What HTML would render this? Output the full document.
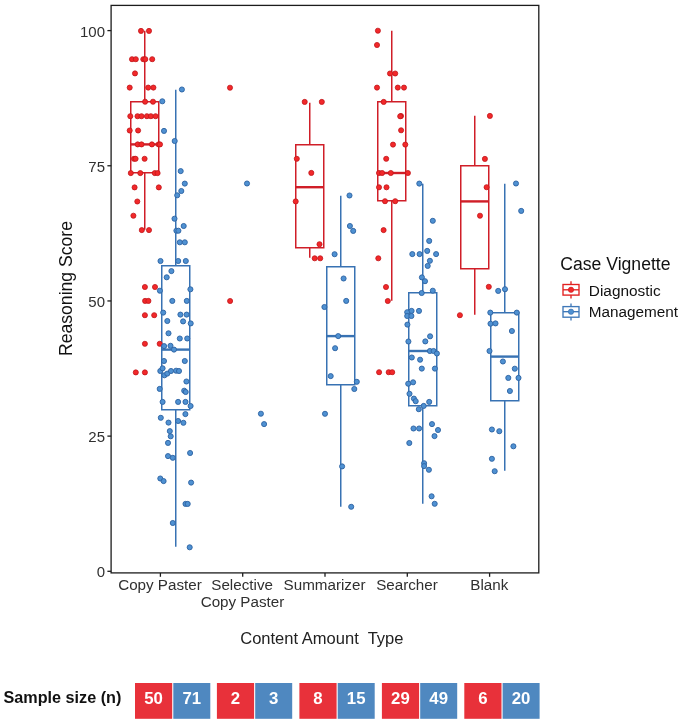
<!DOCTYPE html>
<html><head><meta charset="utf-8"><style>
html,body{margin:0;padding:0;background:#fff;}
svg{display:block;will-change:transform;}
text{font-family:"Liberation Sans", sans-serif;}
</style></head><body>
<svg width="685" height="723" viewBox="0 0 685 723">
<rect x="0" y="0" width="685" height="723" fill="#fff"/>
<line x1="144.75" y1="30.75" x2="144.75" y2="101.75" stroke="#d01e28" stroke-width="1.5"/>
<line x1="144.75" y1="172.75" x2="144.75" y2="229.75" stroke="#d01e28" stroke-width="1.5"/>
<rect x="130.75" y="101.75" width="28.00" height="71.00" fill="none" stroke="#d01e28" stroke-width="1.5"/>
<line x1="130.75" y1="144.4" x2="158.75" y2="144.4" stroke="#d01e28" stroke-width="2.40"/>
<line x1="309.75" y1="102.75" x2="309.75" y2="144.75" stroke="#d01e28" stroke-width="1.5"/>
<line x1="309.75" y1="247.75" x2="309.75" y2="257.75" stroke="#d01e28" stroke-width="1.5"/>
<rect x="295.75" y="144.75" width="28.00" height="103.00" fill="none" stroke="#d01e28" stroke-width="1.5"/>
<line x1="295.75" y1="187.2" x2="323.75" y2="187.2" stroke="#d01e28" stroke-width="2.40"/>
<line x1="391.75" y1="30.75" x2="391.75" y2="101.75" stroke="#d01e28" stroke-width="1.5"/>
<line x1="391.75" y1="200.75" x2="391.75" y2="300.75" stroke="#d01e28" stroke-width="1.5"/>
<rect x="377.75" y="101.75" width="28.00" height="99.00" fill="none" stroke="#d01e28" stroke-width="1.5"/>
<line x1="377.75" y1="173.0" x2="405.75" y2="173.0" stroke="#d01e28" stroke-width="2.40"/>
<line x1="474.75" y1="115.75" x2="474.75" y2="165.75" stroke="#d01e28" stroke-width="1.5"/>
<line x1="474.75" y1="268.75" x2="474.75" y2="314.75" stroke="#d01e28" stroke-width="1.5"/>
<rect x="460.75" y="165.75" width="28.00" height="103.00" fill="none" stroke="#d01e28" stroke-width="1.5"/>
<line x1="460.75" y1="201.4" x2="488.75" y2="201.4" stroke="#d01e28" stroke-width="2.40"/>
<line x1="175.75" y1="89.75" x2="175.75" y2="265.75" stroke="#3872b3" stroke-width="1.5"/>
<line x1="175.75" y1="409.75" x2="175.75" y2="546.75" stroke="#3872b3" stroke-width="1.5"/>
<rect x="161.75" y="265.75" width="28.00" height="144.00" fill="none" stroke="#3872b3" stroke-width="1.5"/>
<line x1="161.75" y1="349.6" x2="189.75" y2="349.6" stroke="#3872b3" stroke-width="2.40"/>
<line x1="340.75" y1="195.75" x2="340.75" y2="266.75" stroke="#3872b3" stroke-width="1.5"/>
<line x1="340.75" y1="384.75" x2="340.75" y2="506.75" stroke="#3872b3" stroke-width="1.5"/>
<rect x="326.75" y="266.75" width="28.00" height="118.00" fill="none" stroke="#3872b3" stroke-width="1.5"/>
<line x1="326.75" y1="336.1" x2="354.75" y2="336.1" stroke="#3872b3" stroke-width="2.40"/>
<line x1="422.75" y1="183.75" x2="422.75" y2="292.75" stroke="#3872b3" stroke-width="1.5"/>
<line x1="422.75" y1="405.75" x2="422.75" y2="503.75" stroke="#3872b3" stroke-width="1.5"/>
<rect x="408.75" y="292.75" width="28.00" height="113.00" fill="none" stroke="#3872b3" stroke-width="1.5"/>
<line x1="408.75" y1="351.0" x2="436.75" y2="351.0" stroke="#3872b3" stroke-width="2.40"/>
<line x1="504.75" y1="183.75" x2="504.75" y2="312.75" stroke="#3872b3" stroke-width="1.5"/>
<line x1="504.75" y1="400.75" x2="504.75" y2="470.75" stroke="#3872b3" stroke-width="1.5"/>
<rect x="490.75" y="312.75" width="28.00" height="88.00" fill="none" stroke="#3872b3" stroke-width="1.5"/>
<line x1="490.75" y1="356.6" x2="518.75" y2="356.6" stroke="#3872b3" stroke-width="2.40"/>
<circle cx="141.0" cy="30.9" r="2.55" fill="#f2282a" stroke="#c0161b" stroke-width="0.8"/>
<circle cx="149.0" cy="30.9" r="2.55" fill="#f2282a" stroke="#c0161b" stroke-width="0.8"/>
<circle cx="132.0" cy="59.2" r="2.55" fill="#f2282a" stroke="#c0161b" stroke-width="0.8"/>
<circle cx="135.8" cy="59.2" r="2.55" fill="#f2282a" stroke="#c0161b" stroke-width="0.8"/>
<circle cx="143.3" cy="59.2" r="2.55" fill="#f2282a" stroke="#c0161b" stroke-width="0.8"/>
<circle cx="145.3" cy="59.2" r="2.55" fill="#f2282a" stroke="#c0161b" stroke-width="0.8"/>
<circle cx="152.2" cy="59.2" r="2.55" fill="#f2282a" stroke="#c0161b" stroke-width="0.8"/>
<circle cx="135.0" cy="73.4" r="2.55" fill="#f2282a" stroke="#c0161b" stroke-width="0.8"/>
<circle cx="129.7" cy="87.6" r="2.55" fill="#f2282a" stroke="#c0161b" stroke-width="0.8"/>
<circle cx="148.2" cy="87.6" r="2.55" fill="#f2282a" stroke="#c0161b" stroke-width="0.8"/>
<circle cx="153.4" cy="87.6" r="2.55" fill="#f2282a" stroke="#c0161b" stroke-width="0.8"/>
<circle cx="145.1" cy="101.7" r="2.55" fill="#f2282a" stroke="#c0161b" stroke-width="0.8"/>
<circle cx="153.0" cy="101.7" r="2.55" fill="#f2282a" stroke="#c0161b" stroke-width="0.8"/>
<circle cx="130.3" cy="116.2" r="2.55" fill="#f2282a" stroke="#c0161b" stroke-width="0.8"/>
<circle cx="137.5" cy="116.2" r="2.55" fill="#f2282a" stroke="#c0161b" stroke-width="0.8"/>
<circle cx="141.5" cy="116.2" r="2.55" fill="#f2282a" stroke="#c0161b" stroke-width="0.8"/>
<circle cx="146.9" cy="116.2" r="2.55" fill="#f2282a" stroke="#c0161b" stroke-width="0.8"/>
<circle cx="150.9" cy="116.2" r="2.55" fill="#f2282a" stroke="#c0161b" stroke-width="0.8"/>
<circle cx="155.6" cy="116.2" r="2.55" fill="#f2282a" stroke="#c0161b" stroke-width="0.8"/>
<circle cx="129.7" cy="130.5" r="2.55" fill="#f2282a" stroke="#c0161b" stroke-width="0.8"/>
<circle cx="138.1" cy="130.5" r="2.55" fill="#f2282a" stroke="#c0161b" stroke-width="0.8"/>
<circle cx="137.7" cy="144.4" r="2.55" fill="#f2282a" stroke="#c0161b" stroke-width="0.8"/>
<circle cx="141.5" cy="144.4" r="2.55" fill="#f2282a" stroke="#c0161b" stroke-width="0.8"/>
<circle cx="151.9" cy="144.4" r="2.55" fill="#f2282a" stroke="#c0161b" stroke-width="0.8"/>
<circle cx="158.6" cy="144.4" r="2.55" fill="#f2282a" stroke="#c0161b" stroke-width="0.8"/>
<circle cx="160.0" cy="144.4" r="2.55" fill="#f2282a" stroke="#c0161b" stroke-width="0.8"/>
<circle cx="134.0" cy="158.8" r="2.55" fill="#f2282a" stroke="#c0161b" stroke-width="0.8"/>
<circle cx="135.6" cy="158.8" r="2.55" fill="#f2282a" stroke="#c0161b" stroke-width="0.8"/>
<circle cx="144.6" cy="158.8" r="2.55" fill="#f2282a" stroke="#c0161b" stroke-width="0.8"/>
<circle cx="130.8" cy="173.1" r="2.55" fill="#f2282a" stroke="#c0161b" stroke-width="0.8"/>
<circle cx="140.3" cy="173.1" r="2.55" fill="#f2282a" stroke="#c0161b" stroke-width="0.8"/>
<circle cx="154.8" cy="173.1" r="2.55" fill="#f2282a" stroke="#c0161b" stroke-width="0.8"/>
<circle cx="157.6" cy="173.1" r="2.55" fill="#f2282a" stroke="#c0161b" stroke-width="0.8"/>
<circle cx="134.6" cy="187.4" r="2.55" fill="#f2282a" stroke="#c0161b" stroke-width="0.8"/>
<circle cx="158.8" cy="187.4" r="2.55" fill="#f2282a" stroke="#c0161b" stroke-width="0.8"/>
<circle cx="137.3" cy="201.5" r="2.55" fill="#f2282a" stroke="#c0161b" stroke-width="0.8"/>
<circle cx="133.4" cy="215.7" r="2.55" fill="#f2282a" stroke="#c0161b" stroke-width="0.8"/>
<circle cx="141.8" cy="230.1" r="2.55" fill="#f2282a" stroke="#c0161b" stroke-width="0.8"/>
<circle cx="149.0" cy="230.1" r="2.55" fill="#f2282a" stroke="#c0161b" stroke-width="0.8"/>
<circle cx="144.9" cy="287.0" r="2.55" fill="#f2282a" stroke="#c0161b" stroke-width="0.8"/>
<circle cx="155.0" cy="287.0" r="2.55" fill="#f2282a" stroke="#c0161b" stroke-width="0.8"/>
<circle cx="145.1" cy="300.9" r="2.55" fill="#f2282a" stroke="#c0161b" stroke-width="0.8"/>
<circle cx="148.4" cy="300.9" r="2.55" fill="#f2282a" stroke="#c0161b" stroke-width="0.8"/>
<circle cx="144.9" cy="315.2" r="2.55" fill="#f2282a" stroke="#c0161b" stroke-width="0.8"/>
<circle cx="154.2" cy="315.2" r="2.55" fill="#f2282a" stroke="#c0161b" stroke-width="0.8"/>
<circle cx="144.9" cy="343.8" r="2.55" fill="#f2282a" stroke="#c0161b" stroke-width="0.8"/>
<circle cx="159.7" cy="343.8" r="2.55" fill="#f2282a" stroke="#c0161b" stroke-width="0.8"/>
<circle cx="135.8" cy="372.4" r="2.55" fill="#f2282a" stroke="#c0161b" stroke-width="0.8"/>
<circle cx="144.9" cy="372.4" r="2.55" fill="#f2282a" stroke="#c0161b" stroke-width="0.8"/>
<circle cx="230.0" cy="87.7" r="2.55" fill="#f2282a" stroke="#c0161b" stroke-width="0.8"/>
<circle cx="230.1" cy="301.0" r="2.55" fill="#f2282a" stroke="#c0161b" stroke-width="0.8"/>
<circle cx="304.7" cy="101.9" r="2.55" fill="#f2282a" stroke="#c0161b" stroke-width="0.8"/>
<circle cx="321.8" cy="101.9" r="2.55" fill="#f2282a" stroke="#c0161b" stroke-width="0.8"/>
<circle cx="296.8" cy="158.8" r="2.55" fill="#f2282a" stroke="#c0161b" stroke-width="0.8"/>
<circle cx="311.3" cy="172.9" r="2.55" fill="#f2282a" stroke="#c0161b" stroke-width="0.8"/>
<circle cx="295.7" cy="201.4" r="2.55" fill="#f2282a" stroke="#c0161b" stroke-width="0.8"/>
<circle cx="319.5" cy="244.2" r="2.55" fill="#f2282a" stroke="#c0161b" stroke-width="0.8"/>
<circle cx="314.7" cy="258.3" r="2.55" fill="#f2282a" stroke="#c0161b" stroke-width="0.8"/>
<circle cx="320.2" cy="258.3" r="2.55" fill="#f2282a" stroke="#c0161b" stroke-width="0.8"/>
<circle cx="377.9" cy="30.7" r="2.55" fill="#f2282a" stroke="#c0161b" stroke-width="0.8"/>
<circle cx="377.0" cy="45.0" r="2.55" fill="#f2282a" stroke="#c0161b" stroke-width="0.8"/>
<circle cx="390.0" cy="73.5" r="2.55" fill="#f2282a" stroke="#c0161b" stroke-width="0.8"/>
<circle cx="395.2" cy="73.5" r="2.55" fill="#f2282a" stroke="#c0161b" stroke-width="0.8"/>
<circle cx="377.0" cy="87.6" r="2.55" fill="#f2282a" stroke="#c0161b" stroke-width="0.8"/>
<circle cx="397.8" cy="87.6" r="2.55" fill="#f2282a" stroke="#c0161b" stroke-width="0.8"/>
<circle cx="404.0" cy="87.6" r="2.55" fill="#f2282a" stroke="#c0161b" stroke-width="0.8"/>
<circle cx="383.7" cy="101.9" r="2.55" fill="#f2282a" stroke="#c0161b" stroke-width="0.8"/>
<circle cx="401.0" cy="116.0" r="2.55" fill="#f2282a" stroke="#c0161b" stroke-width="0.8"/>
<circle cx="400.2" cy="116.3" r="2.55" fill="#f2282a" stroke="#c0161b" stroke-width="0.8"/>
<circle cx="401.1" cy="130.3" r="2.55" fill="#f2282a" stroke="#c0161b" stroke-width="0.8"/>
<circle cx="393.0" cy="144.6" r="2.55" fill="#f2282a" stroke="#c0161b" stroke-width="0.8"/>
<circle cx="405.3" cy="144.6" r="2.55" fill="#f2282a" stroke="#c0161b" stroke-width="0.8"/>
<circle cx="386.2" cy="158.8" r="2.55" fill="#f2282a" stroke="#c0161b" stroke-width="0.8"/>
<circle cx="379.0" cy="173.0" r="2.55" fill="#f2282a" stroke="#c0161b" stroke-width="0.8"/>
<circle cx="382.1" cy="173.0" r="2.55" fill="#f2282a" stroke="#c0161b" stroke-width="0.8"/>
<circle cx="390.8" cy="173.0" r="2.55" fill="#f2282a" stroke="#c0161b" stroke-width="0.8"/>
<circle cx="407.9" cy="173.0" r="2.55" fill="#f2282a" stroke="#c0161b" stroke-width="0.8"/>
<circle cx="379.0" cy="187.3" r="2.55" fill="#f2282a" stroke="#c0161b" stroke-width="0.8"/>
<circle cx="386.5" cy="187.3" r="2.55" fill="#f2282a" stroke="#c0161b" stroke-width="0.8"/>
<circle cx="385.0" cy="201.2" r="2.55" fill="#f2282a" stroke="#c0161b" stroke-width="0.8"/>
<circle cx="395.2" cy="201.2" r="2.55" fill="#f2282a" stroke="#c0161b" stroke-width="0.8"/>
<circle cx="383.6" cy="230.1" r="2.55" fill="#f2282a" stroke="#c0161b" stroke-width="0.8"/>
<circle cx="378.3" cy="258.3" r="2.55" fill="#f2282a" stroke="#c0161b" stroke-width="0.8"/>
<circle cx="386.0" cy="287.0" r="2.55" fill="#f2282a" stroke="#c0161b" stroke-width="0.8"/>
<circle cx="387.8" cy="301.0" r="2.55" fill="#f2282a" stroke="#c0161b" stroke-width="0.8"/>
<circle cx="379.1" cy="372.2" r="2.55" fill="#f2282a" stroke="#c0161b" stroke-width="0.8"/>
<circle cx="388.7" cy="372.2" r="2.55" fill="#f2282a" stroke="#c0161b" stroke-width="0.8"/>
<circle cx="392.2" cy="372.2" r="2.55" fill="#f2282a" stroke="#c0161b" stroke-width="0.8"/>
<circle cx="489.9" cy="115.9" r="2.55" fill="#f2282a" stroke="#c0161b" stroke-width="0.8"/>
<circle cx="484.9" cy="158.9" r="2.55" fill="#f2282a" stroke="#c0161b" stroke-width="0.8"/>
<circle cx="486.6" cy="187.2" r="2.55" fill="#f2282a" stroke="#c0161b" stroke-width="0.8"/>
<circle cx="480.0" cy="215.7" r="2.55" fill="#f2282a" stroke="#c0161b" stroke-width="0.8"/>
<circle cx="488.8" cy="286.8" r="2.55" fill="#f2282a" stroke="#c0161b" stroke-width="0.8"/>
<circle cx="459.9" cy="315.2" r="2.55" fill="#f2282a" stroke="#c0161b" stroke-width="0.8"/>
<circle cx="181.9" cy="89.5" r="2.55" fill="#4f91d2" stroke="#2d62a2" stroke-width="0.9"/>
<circle cx="162.3" cy="101.3" r="2.55" fill="#4f91d2" stroke="#2d62a2" stroke-width="0.9"/>
<circle cx="164.0" cy="130.9" r="2.55" fill="#4f91d2" stroke="#2d62a2" stroke-width="0.9"/>
<circle cx="174.7" cy="141.0" r="2.55" fill="#4f91d2" stroke="#2d62a2" stroke-width="0.9"/>
<circle cx="180.7" cy="171.1" r="2.55" fill="#4f91d2" stroke="#2d62a2" stroke-width="0.9"/>
<circle cx="184.8" cy="183.6" r="2.55" fill="#4f91d2" stroke="#2d62a2" stroke-width="0.9"/>
<circle cx="181.3" cy="191.0" r="2.55" fill="#4f91d2" stroke="#2d62a2" stroke-width="0.9"/>
<circle cx="177.2" cy="195.3" r="2.55" fill="#4f91d2" stroke="#2d62a2" stroke-width="0.9"/>
<circle cx="174.5" cy="218.7" r="2.55" fill="#4f91d2" stroke="#2d62a2" stroke-width="0.9"/>
<circle cx="183.7" cy="226.0" r="2.55" fill="#4f91d2" stroke="#2d62a2" stroke-width="0.9"/>
<circle cx="176.4" cy="230.7" r="2.55" fill="#4f91d2" stroke="#2d62a2" stroke-width="0.9"/>
<circle cx="178.4" cy="230.7" r="2.55" fill="#4f91d2" stroke="#2d62a2" stroke-width="0.9"/>
<circle cx="179.8" cy="242.3" r="2.55" fill="#4f91d2" stroke="#2d62a2" stroke-width="0.9"/>
<circle cx="184.8" cy="242.3" r="2.55" fill="#4f91d2" stroke="#2d62a2" stroke-width="0.9"/>
<circle cx="160.5" cy="261.0" r="2.55" fill="#4f91d2" stroke="#2d62a2" stroke-width="0.9"/>
<circle cx="178.2" cy="261.0" r="2.55" fill="#4f91d2" stroke="#2d62a2" stroke-width="0.9"/>
<circle cx="185.8" cy="261.0" r="2.55" fill="#4f91d2" stroke="#2d62a2" stroke-width="0.9"/>
<circle cx="171.4" cy="271.1" r="2.55" fill="#4f91d2" stroke="#2d62a2" stroke-width="0.9"/>
<circle cx="166.7" cy="277.3" r="2.55" fill="#4f91d2" stroke="#2d62a2" stroke-width="0.9"/>
<circle cx="159.9" cy="290.7" r="2.55" fill="#4f91d2" stroke="#2d62a2" stroke-width="0.9"/>
<circle cx="190.4" cy="289.3" r="2.55" fill="#4f91d2" stroke="#2d62a2" stroke-width="0.9"/>
<circle cx="172.3" cy="300.9" r="2.55" fill="#4f91d2" stroke="#2d62a2" stroke-width="0.9"/>
<circle cx="186.8" cy="300.9" r="2.55" fill="#4f91d2" stroke="#2d62a2" stroke-width="0.9"/>
<circle cx="163.2" cy="312.6" r="2.55" fill="#4f91d2" stroke="#2d62a2" stroke-width="0.9"/>
<circle cx="180.4" cy="314.6" r="2.55" fill="#4f91d2" stroke="#2d62a2" stroke-width="0.9"/>
<circle cx="186.6" cy="314.6" r="2.55" fill="#4f91d2" stroke="#2d62a2" stroke-width="0.9"/>
<circle cx="167.3" cy="321.0" r="2.55" fill="#4f91d2" stroke="#2d62a2" stroke-width="0.9"/>
<circle cx="183.1" cy="321.4" r="2.55" fill="#4f91d2" stroke="#2d62a2" stroke-width="0.9"/>
<circle cx="190.7" cy="323.4" r="2.55" fill="#4f91d2" stroke="#2d62a2" stroke-width="0.9"/>
<circle cx="168.5" cy="333.3" r="2.55" fill="#4f91d2" stroke="#2d62a2" stroke-width="0.9"/>
<circle cx="179.8" cy="338.5" r="2.55" fill="#4f91d2" stroke="#2d62a2" stroke-width="0.9"/>
<circle cx="187.2" cy="338.5" r="2.55" fill="#4f91d2" stroke="#2d62a2" stroke-width="0.9"/>
<circle cx="164.1" cy="346.1" r="2.55" fill="#4f91d2" stroke="#2d62a2" stroke-width="0.9"/>
<circle cx="170.5" cy="345.8" r="2.55" fill="#4f91d2" stroke="#2d62a2" stroke-width="0.9"/>
<circle cx="174.0" cy="349.6" r="2.55" fill="#4f91d2" stroke="#2d62a2" stroke-width="0.9"/>
<circle cx="164.0" cy="361.0" r="2.55" fill="#4f91d2" stroke="#2d62a2" stroke-width="0.9"/>
<circle cx="184.8" cy="361.0" r="2.55" fill="#4f91d2" stroke="#2d62a2" stroke-width="0.9"/>
<circle cx="160.3" cy="371.0" r="2.55" fill="#4f91d2" stroke="#2d62a2" stroke-width="0.9"/>
<circle cx="162.6" cy="368.3" r="2.55" fill="#4f91d2" stroke="#2d62a2" stroke-width="0.9"/>
<circle cx="164.4" cy="375.3" r="2.55" fill="#4f91d2" stroke="#2d62a2" stroke-width="0.9"/>
<circle cx="167.3" cy="373.6" r="2.55" fill="#4f91d2" stroke="#2d62a2" stroke-width="0.9"/>
<circle cx="171.0" cy="371.0" r="2.55" fill="#4f91d2" stroke="#2d62a2" stroke-width="0.9"/>
<circle cx="176.1" cy="370.7" r="2.55" fill="#4f91d2" stroke="#2d62a2" stroke-width="0.9"/>
<circle cx="179.0" cy="371.0" r="2.55" fill="#4f91d2" stroke="#2d62a2" stroke-width="0.9"/>
<circle cx="186.4" cy="381.5" r="2.55" fill="#4f91d2" stroke="#2d62a2" stroke-width="0.9"/>
<circle cx="159.7" cy="388.9" r="2.55" fill="#4f91d2" stroke="#2d62a2" stroke-width="0.9"/>
<circle cx="184.2" cy="390.7" r="2.55" fill="#4f91d2" stroke="#2d62a2" stroke-width="0.9"/>
<circle cx="185.7" cy="392.0" r="2.55" fill="#4f91d2" stroke="#2d62a2" stroke-width="0.9"/>
<circle cx="162.6" cy="401.9" r="2.55" fill="#4f91d2" stroke="#2d62a2" stroke-width="0.9"/>
<circle cx="178.1" cy="401.9" r="2.55" fill="#4f91d2" stroke="#2d62a2" stroke-width="0.9"/>
<circle cx="185.5" cy="401.9" r="2.55" fill="#4f91d2" stroke="#2d62a2" stroke-width="0.9"/>
<circle cx="190.6" cy="406.0" r="2.55" fill="#4f91d2" stroke="#2d62a2" stroke-width="0.9"/>
<circle cx="185.4" cy="414.1" r="2.55" fill="#4f91d2" stroke="#2d62a2" stroke-width="0.9"/>
<circle cx="160.8" cy="417.8" r="2.55" fill="#4f91d2" stroke="#2d62a2" stroke-width="0.9"/>
<circle cx="168.5" cy="422.6" r="2.55" fill="#4f91d2" stroke="#2d62a2" stroke-width="0.9"/>
<circle cx="178.1" cy="421.0" r="2.55" fill="#4f91d2" stroke="#2d62a2" stroke-width="0.9"/>
<circle cx="183.4" cy="422.8" r="2.55" fill="#4f91d2" stroke="#2d62a2" stroke-width="0.9"/>
<circle cx="169.8" cy="431.1" r="2.55" fill="#4f91d2" stroke="#2d62a2" stroke-width="0.9"/>
<circle cx="170.7" cy="436.3" r="2.55" fill="#4f91d2" stroke="#2d62a2" stroke-width="0.9"/>
<circle cx="168.0" cy="442.9" r="2.55" fill="#4f91d2" stroke="#2d62a2" stroke-width="0.9"/>
<circle cx="190.1" cy="453.0" r="2.55" fill="#4f91d2" stroke="#2d62a2" stroke-width="0.9"/>
<circle cx="168.0" cy="456.1" r="2.55" fill="#4f91d2" stroke="#2d62a2" stroke-width="0.9"/>
<circle cx="172.8" cy="457.8" r="2.55" fill="#4f91d2" stroke="#2d62a2" stroke-width="0.9"/>
<circle cx="160.3" cy="478.5" r="2.55" fill="#4f91d2" stroke="#2d62a2" stroke-width="0.9"/>
<circle cx="163.6" cy="481.1" r="2.55" fill="#4f91d2" stroke="#2d62a2" stroke-width="0.9"/>
<circle cx="191.1" cy="482.6" r="2.55" fill="#4f91d2" stroke="#2d62a2" stroke-width="0.9"/>
<circle cx="185.5" cy="503.9" r="2.55" fill="#4f91d2" stroke="#2d62a2" stroke-width="0.9"/>
<circle cx="187.7" cy="503.9" r="2.55" fill="#4f91d2" stroke="#2d62a2" stroke-width="0.9"/>
<circle cx="172.8" cy="523.0" r="2.55" fill="#4f91d2" stroke="#2d62a2" stroke-width="0.9"/>
<circle cx="189.7" cy="547.3" r="2.55" fill="#4f91d2" stroke="#2d62a2" stroke-width="0.9"/>
<circle cx="247.0" cy="183.5" r="2.55" fill="#4f91d2" stroke="#2d62a2" stroke-width="0.9"/>
<circle cx="260.9" cy="413.7" r="2.55" fill="#4f91d2" stroke="#2d62a2" stroke-width="0.9"/>
<circle cx="264.1" cy="424.1" r="2.55" fill="#4f91d2" stroke="#2d62a2" stroke-width="0.9"/>
<circle cx="349.5" cy="195.5" r="2.55" fill="#4f91d2" stroke="#2d62a2" stroke-width="0.9"/>
<circle cx="349.9" cy="226.0" r="2.55" fill="#4f91d2" stroke="#2d62a2" stroke-width="0.9"/>
<circle cx="353.2" cy="230.9" r="2.55" fill="#4f91d2" stroke="#2d62a2" stroke-width="0.9"/>
<circle cx="334.6" cy="254.2" r="2.55" fill="#4f91d2" stroke="#2d62a2" stroke-width="0.9"/>
<circle cx="343.6" cy="278.5" r="2.55" fill="#4f91d2" stroke="#2d62a2" stroke-width="0.9"/>
<circle cx="346.2" cy="300.9" r="2.55" fill="#4f91d2" stroke="#2d62a2" stroke-width="0.9"/>
<circle cx="324.4" cy="307.0" r="2.55" fill="#4f91d2" stroke="#2d62a2" stroke-width="0.9"/>
<circle cx="338.2" cy="336.1" r="2.55" fill="#4f91d2" stroke="#2d62a2" stroke-width="0.9"/>
<circle cx="335.1" cy="348.2" r="2.55" fill="#4f91d2" stroke="#2d62a2" stroke-width="0.9"/>
<circle cx="330.7" cy="376.1" r="2.55" fill="#4f91d2" stroke="#2d62a2" stroke-width="0.9"/>
<circle cx="356.8" cy="381.8" r="2.55" fill="#4f91d2" stroke="#2d62a2" stroke-width="0.9"/>
<circle cx="354.3" cy="389.0" r="2.55" fill="#4f91d2" stroke="#2d62a2" stroke-width="0.9"/>
<circle cx="325.0" cy="413.8" r="2.55" fill="#4f91d2" stroke="#2d62a2" stroke-width="0.9"/>
<circle cx="342.1" cy="466.4" r="2.55" fill="#4f91d2" stroke="#2d62a2" stroke-width="0.9"/>
<circle cx="351.2" cy="506.8" r="2.55" fill="#4f91d2" stroke="#2d62a2" stroke-width="0.9"/>
<circle cx="419.3" cy="183.6" r="2.55" fill="#4f91d2" stroke="#2d62a2" stroke-width="0.9"/>
<circle cx="432.8" cy="220.8" r="2.55" fill="#4f91d2" stroke="#2d62a2" stroke-width="0.9"/>
<circle cx="429.2" cy="240.9" r="2.55" fill="#4f91d2" stroke="#2d62a2" stroke-width="0.9"/>
<circle cx="427.2" cy="250.9" r="2.55" fill="#4f91d2" stroke="#2d62a2" stroke-width="0.9"/>
<circle cx="412.3" cy="254.1" r="2.55" fill="#4f91d2" stroke="#2d62a2" stroke-width="0.9"/>
<circle cx="419.6" cy="254.1" r="2.55" fill="#4f91d2" stroke="#2d62a2" stroke-width="0.9"/>
<circle cx="436.1" cy="254.1" r="2.55" fill="#4f91d2" stroke="#2d62a2" stroke-width="0.9"/>
<circle cx="429.9" cy="260.8" r="2.55" fill="#4f91d2" stroke="#2d62a2" stroke-width="0.9"/>
<circle cx="427.7" cy="265.9" r="2.55" fill="#4f91d2" stroke="#2d62a2" stroke-width="0.9"/>
<circle cx="421.9" cy="277.4" r="2.55" fill="#4f91d2" stroke="#2d62a2" stroke-width="0.9"/>
<circle cx="425.0" cy="281.2" r="2.55" fill="#4f91d2" stroke="#2d62a2" stroke-width="0.9"/>
<circle cx="421.7" cy="293.0" r="2.55" fill="#4f91d2" stroke="#2d62a2" stroke-width="0.9"/>
<circle cx="432.8" cy="290.7" r="2.55" fill="#4f91d2" stroke="#2d62a2" stroke-width="0.9"/>
<circle cx="407.2" cy="312.2" r="2.55" fill="#4f91d2" stroke="#2d62a2" stroke-width="0.9"/>
<circle cx="411.6" cy="310.9" r="2.55" fill="#4f91d2" stroke="#2d62a2" stroke-width="0.9"/>
<circle cx="407.2" cy="316.0" r="2.55" fill="#4f91d2" stroke="#2d62a2" stroke-width="0.9"/>
<circle cx="411.4" cy="316.0" r="2.55" fill="#4f91d2" stroke="#2d62a2" stroke-width="0.9"/>
<circle cx="419.0" cy="310.9" r="2.55" fill="#4f91d2" stroke="#2d62a2" stroke-width="0.9"/>
<circle cx="407.4" cy="324.6" r="2.55" fill="#4f91d2" stroke="#2d62a2" stroke-width="0.9"/>
<circle cx="430.1" cy="336.3" r="2.55" fill="#4f91d2" stroke="#2d62a2" stroke-width="0.9"/>
<circle cx="408.4" cy="341.5" r="2.55" fill="#4f91d2" stroke="#2d62a2" stroke-width="0.9"/>
<circle cx="425.3" cy="341.4" r="2.55" fill="#4f91d2" stroke="#2d62a2" stroke-width="0.9"/>
<circle cx="429.9" cy="351.0" r="2.55" fill="#4f91d2" stroke="#2d62a2" stroke-width="0.9"/>
<circle cx="433.6" cy="351.0" r="2.55" fill="#4f91d2" stroke="#2d62a2" stroke-width="0.9"/>
<circle cx="436.9" cy="353.5" r="2.55" fill="#4f91d2" stroke="#2d62a2" stroke-width="0.9"/>
<circle cx="411.8" cy="357.5" r="2.55" fill="#4f91d2" stroke="#2d62a2" stroke-width="0.9"/>
<circle cx="420.1" cy="359.7" r="2.55" fill="#4f91d2" stroke="#2d62a2" stroke-width="0.9"/>
<circle cx="421.8" cy="368.6" r="2.55" fill="#4f91d2" stroke="#2d62a2" stroke-width="0.9"/>
<circle cx="434.9" cy="368.6" r="2.55" fill="#4f91d2" stroke="#2d62a2" stroke-width="0.9"/>
<circle cx="408.2" cy="383.7" r="2.55" fill="#4f91d2" stroke="#2d62a2" stroke-width="0.9"/>
<circle cx="413.1" cy="382.3" r="2.55" fill="#4f91d2" stroke="#2d62a2" stroke-width="0.9"/>
<circle cx="409.5" cy="393.8" r="2.55" fill="#4f91d2" stroke="#2d62a2" stroke-width="0.9"/>
<circle cx="413.9" cy="398.6" r="2.55" fill="#4f91d2" stroke="#2d62a2" stroke-width="0.9"/>
<circle cx="415.7" cy="401.2" r="2.55" fill="#4f91d2" stroke="#2d62a2" stroke-width="0.9"/>
<circle cx="429.2" cy="401.9" r="2.55" fill="#4f91d2" stroke="#2d62a2" stroke-width="0.9"/>
<circle cx="423.7" cy="405.9" r="2.55" fill="#4f91d2" stroke="#2d62a2" stroke-width="0.9"/>
<circle cx="418.8" cy="409.2" r="2.55" fill="#4f91d2" stroke="#2d62a2" stroke-width="0.9"/>
<circle cx="432.0" cy="424.1" r="2.55" fill="#4f91d2" stroke="#2d62a2" stroke-width="0.9"/>
<circle cx="413.5" cy="428.5" r="2.55" fill="#4f91d2" stroke="#2d62a2" stroke-width="0.9"/>
<circle cx="419.1" cy="428.5" r="2.55" fill="#4f91d2" stroke="#2d62a2" stroke-width="0.9"/>
<circle cx="438.0" cy="430.0" r="2.55" fill="#4f91d2" stroke="#2d62a2" stroke-width="0.9"/>
<circle cx="434.5" cy="436.1" r="2.55" fill="#4f91d2" stroke="#2d62a2" stroke-width="0.9"/>
<circle cx="409.3" cy="443.0" r="2.55" fill="#4f91d2" stroke="#2d62a2" stroke-width="0.9"/>
<circle cx="424.1" cy="463.2" r="2.55" fill="#4f91d2" stroke="#2d62a2" stroke-width="0.9"/>
<circle cx="424.1" cy="466.1" r="2.55" fill="#4f91d2" stroke="#2d62a2" stroke-width="0.9"/>
<circle cx="428.9" cy="469.8" r="2.55" fill="#4f91d2" stroke="#2d62a2" stroke-width="0.9"/>
<circle cx="431.6" cy="496.3" r="2.55" fill="#4f91d2" stroke="#2d62a2" stroke-width="0.9"/>
<circle cx="434.7" cy="503.8" r="2.55" fill="#4f91d2" stroke="#2d62a2" stroke-width="0.9"/>
<circle cx="516.0" cy="183.5" r="2.55" fill="#4f91d2" stroke="#2d62a2" stroke-width="0.9"/>
<circle cx="521.2" cy="210.9" r="2.55" fill="#4f91d2" stroke="#2d62a2" stroke-width="0.9"/>
<circle cx="498.2" cy="290.9" r="2.55" fill="#4f91d2" stroke="#2d62a2" stroke-width="0.9"/>
<circle cx="505.0" cy="289.2" r="2.55" fill="#4f91d2" stroke="#2d62a2" stroke-width="0.9"/>
<circle cx="490.3" cy="312.6" r="2.55" fill="#4f91d2" stroke="#2d62a2" stroke-width="0.9"/>
<circle cx="516.8" cy="312.6" r="2.55" fill="#4f91d2" stroke="#2d62a2" stroke-width="0.9"/>
<circle cx="490.5" cy="323.7" r="2.55" fill="#4f91d2" stroke="#2d62a2" stroke-width="0.9"/>
<circle cx="495.5" cy="323.4" r="2.55" fill="#4f91d2" stroke="#2d62a2" stroke-width="0.9"/>
<circle cx="511.9" cy="331.0" r="2.55" fill="#4f91d2" stroke="#2d62a2" stroke-width="0.9"/>
<circle cx="489.5" cy="351.0" r="2.55" fill="#4f91d2" stroke="#2d62a2" stroke-width="0.9"/>
<circle cx="502.9" cy="361.5" r="2.55" fill="#4f91d2" stroke="#2d62a2" stroke-width="0.9"/>
<circle cx="514.8" cy="368.7" r="2.55" fill="#4f91d2" stroke="#2d62a2" stroke-width="0.9"/>
<circle cx="508.3" cy="377.9" r="2.55" fill="#4f91d2" stroke="#2d62a2" stroke-width="0.9"/>
<circle cx="518.5" cy="377.9" r="2.55" fill="#4f91d2" stroke="#2d62a2" stroke-width="0.9"/>
<circle cx="509.9" cy="391.0" r="2.55" fill="#4f91d2" stroke="#2d62a2" stroke-width="0.9"/>
<circle cx="491.9" cy="429.5" r="2.55" fill="#4f91d2" stroke="#2d62a2" stroke-width="0.9"/>
<circle cx="499.3" cy="431.2" r="2.55" fill="#4f91d2" stroke="#2d62a2" stroke-width="0.9"/>
<circle cx="513.4" cy="446.3" r="2.55" fill="#4f91d2" stroke="#2d62a2" stroke-width="0.9"/>
<circle cx="491.9" cy="458.8" r="2.55" fill="#4f91d2" stroke="#2d62a2" stroke-width="0.9"/>
<circle cx="494.7" cy="471.2" r="2.55" fill="#4f91d2" stroke="#2d62a2" stroke-width="0.9"/>
<rect x="111.1" y="5.4" width="427.7" height="567.5" fill="none" stroke="#1c1c1c" stroke-width="1.3"/>
<line x1="107.4" y1="571.30" x2="111.2" y2="571.30" stroke="#1c1c1c" stroke-width="1.3"/>
<text x="105" y="577.30" text-anchor="end" font-size="15" fill="#303030" font-family="Liberation Sans, sans-serif">0</text>
<line x1="107.4" y1="436.12" x2="111.2" y2="436.12" stroke="#1c1c1c" stroke-width="1.3"/>
<text x="105" y="442.12" text-anchor="end" font-size="15" fill="#303030" font-family="Liberation Sans, sans-serif">25</text>
<line x1="107.4" y1="300.95" x2="111.2" y2="300.95" stroke="#1c1c1c" stroke-width="1.3"/>
<text x="105" y="306.95" text-anchor="end" font-size="15" fill="#303030" font-family="Liberation Sans, sans-serif">50</text>
<line x1="107.4" y1="165.77" x2="111.2" y2="165.77" stroke="#1c1c1c" stroke-width="1.3"/>
<text x="105" y="171.77" text-anchor="end" font-size="15" fill="#303030" font-family="Liberation Sans, sans-serif">75</text>
<line x1="107.4" y1="30.60" x2="111.2" y2="30.60" stroke="#1c1c1c" stroke-width="1.3"/>
<text x="105" y="36.60" text-anchor="end" font-size="15" fill="#303030" font-family="Liberation Sans, sans-serif">100</text>
<line x1="160.4" y1="573" x2="160.4" y2="576.8" stroke="#1c1c1c" stroke-width="1.3"/>
<line x1="242.7" y1="573" x2="242.7" y2="576.8" stroke="#1c1c1c" stroke-width="1.3"/>
<line x1="325.0" y1="573" x2="325.0" y2="576.8" stroke="#1c1c1c" stroke-width="1.3"/>
<line x1="407.3" y1="573" x2="407.3" y2="576.8" stroke="#1c1c1c" stroke-width="1.3"/>
<line x1="489.6" y1="573" x2="489.6" y2="576.8" stroke="#1c1c1c" stroke-width="1.3"/>
<text x="118.2" y="589.9" font-size="15.2" fill="#303030" font-family="Liberation Sans, sans-serif">Copy Paster</text>
<text x="211.29999999999998" y="589.9" font-size="15.2" fill="#303030" font-family="Liberation Sans, sans-serif">Selective</text>
<text x="200.7" y="606.6" font-size="15.2" fill="#303030" font-family="Liberation Sans, sans-serif">Copy Paster</text>
<text x="283.59999999999997" y="589.9" font-size="15.2" fill="#303030" font-family="Liberation Sans, sans-serif">Summarizer</text>
<text x="376.2" y="589.9" font-size="15.2" fill="#303030" font-family="Liberation Sans, sans-serif">Searcher</text>
<text x="470.3" y="589.9" font-size="15.2" fill="#303030" font-family="Liberation Sans, sans-serif">Blank</text>
<text transform="translate(72.3,356) rotate(-90)" font-size="17.6" fill="#111" font-family="Liberation Sans, sans-serif">Reasoning Score</text>
<text x="240.2" y="643.6" font-size="16.55" fill="#222" font-family="Liberation Sans, sans-serif" xml:space="preserve">Content Amount  Type</text>

<text x="560.3" y="270.4" font-size="17.6" fill="#111" font-family="Liberation Sans, sans-serif">Case Vignette</text>
<line x1="571" y1="281.2" x2="571" y2="298.5" stroke="#e2201f" stroke-width="1.35"/>
<rect x="563" y="284.5" width="16" height="10.6" fill="#fff" stroke="#e2201f" stroke-width="1.35"/>
<line x1="563" y1="289.8" x2="579" y2="289.8" stroke="#e2201f" stroke-width="1.35"/>
<circle cx="571" cy="289.8" r="2.7" fill="#f2282a" stroke="#c0161b" stroke-width="0.5"/>
<line x1="571" y1="303.5" x2="571" y2="320.4" stroke="#3f78b8" stroke-width="1.35"/>
<rect x="563" y="306.6" width="16" height="10.6" fill="#fff" stroke="#3f78b8" stroke-width="1.35"/>
<line x1="563" y1="311.7" x2="579" y2="311.7" stroke="#3f78b8" stroke-width="1.35"/>
<circle cx="571" cy="311.7" r="2.7" fill="#4f91d2" stroke="#2d62a2" stroke-width="0.5"/>
<text x="588.8" y="295.5" font-size="15.4" fill="#111" font-family="Liberation Sans, sans-serif">Diagnostic</text>
<text x="588.8" y="317.4" font-size="15.3" fill="#111" font-family="Liberation Sans, sans-serif">Management</text>

<text x="3.5" y="703.1" font-size="16.2" font-weight="bold" fill="#111" font-family="Liberation Sans, sans-serif">Sample size (n)</text>
<rect x="135.0" y="683" width="37.2" height="35.8" fill="#e8313a"/>
<rect x="173.3" y="683" width="37" height="35.8" fill="#4f88c0"/>
<text x="153.5" y="703.6" text-anchor="middle" font-size="16.8" font-weight="bold" fill="#fff" font-family="Liberation Sans, sans-serif">50</text>
<text x="191.8" y="703.6" text-anchor="middle" font-size="16.8" font-weight="bold" fill="#fff" font-family="Liberation Sans, sans-serif">71</text>
<rect x="216.9" y="683" width="37.2" height="35.8" fill="#e8313a"/>
<rect x="255.2" y="683" width="37" height="35.8" fill="#4f88c0"/>
<text x="235.4" y="703.6" text-anchor="middle" font-size="16.8" font-weight="bold" fill="#fff" font-family="Liberation Sans, sans-serif">2</text>
<text x="273.7" y="703.6" text-anchor="middle" font-size="16.8" font-weight="bold" fill="#fff" font-family="Liberation Sans, sans-serif">3</text>
<rect x="299.4" y="683" width="37.2" height="35.8" fill="#e8313a"/>
<rect x="337.7" y="683" width="37" height="35.8" fill="#4f88c0"/>
<text x="317.9" y="703.6" text-anchor="middle" font-size="16.8" font-weight="bold" fill="#fff" font-family="Liberation Sans, sans-serif">8</text>
<text x="356.2" y="703.6" text-anchor="middle" font-size="16.8" font-weight="bold" fill="#fff" font-family="Liberation Sans, sans-serif">15</text>
<rect x="381.9" y="683" width="37.2" height="35.8" fill="#e8313a"/>
<rect x="420.2" y="683" width="37" height="35.8" fill="#4f88c0"/>
<text x="400.4" y="703.6" text-anchor="middle" font-size="16.8" font-weight="bold" fill="#fff" font-family="Liberation Sans, sans-serif">29</text>
<text x="438.7" y="703.6" text-anchor="middle" font-size="16.8" font-weight="bold" fill="#fff" font-family="Liberation Sans, sans-serif">49</text>
<rect x="464.3" y="683" width="37.2" height="35.8" fill="#e8313a"/>
<rect x="502.6" y="683" width="37" height="35.8" fill="#4f88c0"/>
<text x="482.8" y="703.6" text-anchor="middle" font-size="16.8" font-weight="bold" fill="#fff" font-family="Liberation Sans, sans-serif">6</text>
<text x="521.1" y="703.6" text-anchor="middle" font-size="16.8" font-weight="bold" fill="#fff" font-family="Liberation Sans, sans-serif">20</text>
</svg>
</body></html>
